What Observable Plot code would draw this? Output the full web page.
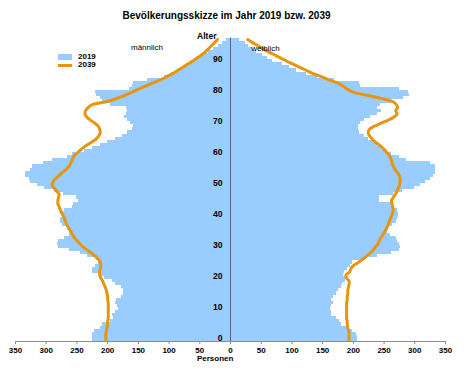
<!DOCTYPE html>
<html><head><meta charset="utf-8">
<script src="https://cdn.jsdelivr.net/npm/d3@7"></script>
<script src="https://cdn.jsdelivr.net/npm/@observablehq/plot@0.6"></script>
<style>
body{margin:0;background:#fff;font-family:"Liberation Sans",Arial,sans-serif;}
#wrap{position:relative;width:470px;height:374px;overflow:hidden;}
#title{position:absolute;left:0;top:10px;width:453px;text-align:center;font-weight:bold;font-size:10px;line-height:12px;color:#000;}
#chart{position:absolute;left:0;top:26px;}
.lg{position:absolute;}
.lgt{position:absolute;font-weight:bold;font-size:8px;line-height:8px;color:#000;}
</style></head><body>
<div id="wrap">
  <div id="title">Bevölkerungsskizze im Jahr 2019 bzw. 2039</div>
  <div id="chart"></div>
  <div class="lg" style="left:58px;top:54px;width:14px;height:5.5px;background:#99CCFF"></div>
  <div class="lgt" style="left:78px;top:52.7px">2019</div>
  <div class="lg" style="left:58px;top:63.5px;width:14px;height:3px;background:#E8950E"></div>
  <div class="lgt" style="left:78px;top:61px">2039</div>
</div>
<script>
// Alter 0..97
const male2019 = [224, 224,224,222,212,208,195,190,192,188,183, 184,188,186,177,174,175,177,188,192,205, 213,224,225,220,215,218,232,245,262,280, 282,280,270,262,262,266,274,276,276,274, 273,270,258,255,248,250,272,286,302,315, 326,328,333,333,326,322,305,289,265,258, 238,225,212,200,188,176,168,160,158,162, 168,172,170,168,170,196,208,212,218,220, 165,160,158,135,108,96,86,76,68,60, 52,44,36,28,20,13,6];
const female2019 = [207, 207,205,198,190,180,178,172,165,165,162, 165,167,164,168,172,176,180,182,188,190, 184,185,190,195,198,220,240,262,275,276, 275,272,270,260,256,258,264,270,272,273, 274,272,265,262,243,243,265,280,300,310, 318,325,330,333,333,333,325,287,275,262, 255,248,240,232,225,218,210,208,208,212, 218,228,240,246,240,244,262,282,292,290, 275,212,210,170,142,124,108,96,84,68, 60,52,42,36,30,24,14];
const male2039 = [203, 203,203,202,201,200,200,199,199,199,199, 199,199,200,200,201,202,204,206,208,211, 213,213,212,211,212,215,220,226,233,240, 245,250,254,257,260,263,266,268,270,272, 275,277,279,281,281,280,279,283,287,290, 289,285,280,274,268,263,260,258,256,252, 246,240,233,225,218,214,212,213,215,221, 228,234,237,236,232,225,200,185,172,160, 150,138,126,114,104,94,86,78,70,62, 55,47,41,36,31,26,21];
const female2039 = [193, 193,193,192,191,190,190,189,189,189,189, 189,189,190,190,191,191,192,193,193,189, 188,194,196,200,208,215,221,227,232,236, 240,242,245,248,251,254,256,258,260,262, 264,265,264,263,262,265,268,271,273,275, 276,276,275,272,268,265,263,262,260,257, 252,248,242,235,230,226,224,226,234,245, 257,266,271,269,272,270,264,245,222,200, 190,183,174,160,148,135,124,113,103,92, 82,72,62,53,45,36,28];
const xTicks = [-350,-300,-250,-200,-150,-100,-50,0,50,100,150,200,250,300,350];
const yTicks = [0,10,20,30,40,50,60,70,80,90];

const rows = male2019.map((m, i) => ({age: i, m19: m, f19: female2019[i], m39: male2039[i], f39: female2039[i]}));

const BLUE = "#99CCFF", ORANGE = "#E8950E";

const chart = Plot.plot({
  width: 470, height: 348,
  marginLeft: 15, marginRight: 25, marginTop: 11.5, marginBottom: 33,
  style: {fontFamily: "'Liberation Sans', Arial, sans-serif", fontSize: "8.5px", background: "#fff", color: "#000"},
  x: {domain: [-350, 350], axis: null},
  y: {domain: [0, 98], axis: null},
  marks: [
    Plot.rect(rows, {x1: 0, x2: d => -d.m19, y1: d => d.age, y2: d => d.age + 1, fill: BLUE, shapeRendering: "crispEdges"}),
    Plot.rect(rows, {x1: 0, x2: d => d.f19, y1: d => d.age, y2: d => d.age + 1, fill: BLUE, shapeRendering: "crispEdges"}),
    Plot.ruleY([0], {stroke: "#8c8c8c"}),
    Plot.axisX(xTicks, {tickFormat: d => Math.abs(d), tickSize: 3, tickPadding: 2.5, fontWeight: "bold", fontSize: 8, label: null, stroke: "#8c8c8c", fill: "#000"}),
    Plot.ruleX([0], {y1: 0, y2: 98, stroke: "#56657e"}),
    Plot.line(rows, {x: d => -d.m39, y: d => d.age + 0.5, stroke: ORANGE, strokeWidth: 3, curve: "catmull-rom"}),
    Plot.line(rows, {x: d => d.f39, y: d => d.age + 0.5, stroke: ORANGE, strokeWidth: 3, curve: "catmull-rom"}),
    Plot.text(yTicks, {x: 0, y: d => d + 1, text: d => String(d), textAnchor: "end", dx: -8, fontWeight: "bold"}),
    Plot.text(["Alter"], {frameAnchor: "top", dx: -23.7, dy: -5.2, fontWeight: "bold"}),
    Plot.text(["männlich"], {frameAnchor: "top", dx: -83.5, dy: 6.8, fontSize: 8}),
    Plot.text(["weiblich"], {frameAnchor: "top", dx: 35, dy: 7.2, fontSize: 8}),
    Plot.text(["Personen"], {frameAnchor: "bottom", dx: -15.3, dy: 19.5, fontWeight: "bold", fontSize: 8})
  ]
});
document.getElementById("chart").appendChild(chart);
</script>
</body></html>
